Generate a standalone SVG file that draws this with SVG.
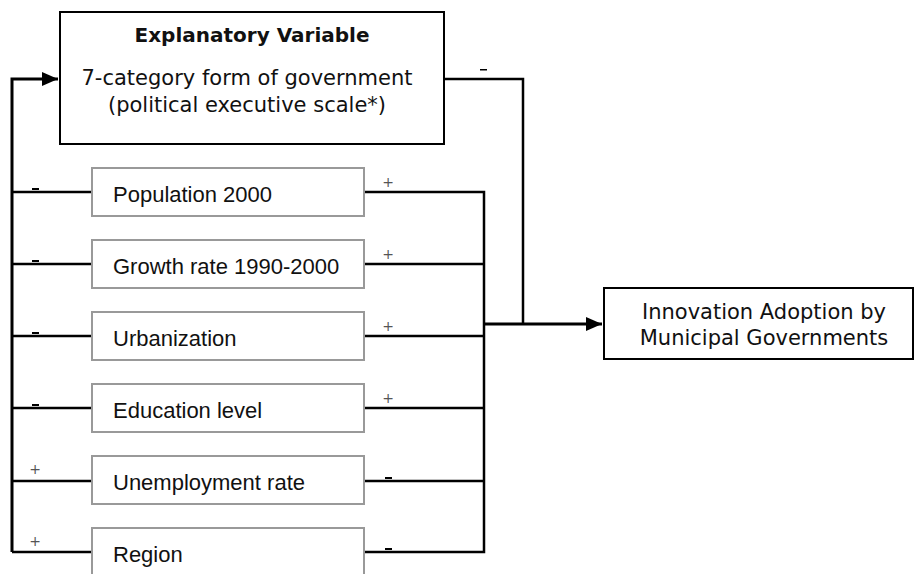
<svg xmlns="http://www.w3.org/2000/svg" width="915" height="574" viewBox="0 0 915 574">
<style>
.main{fill:#fff;stroke:#000;stroke-width:2}
.var{fill:#fff;stroke:#999;stroke-width:2}
.t{font-family:"DejaVu Sans",Verdana,sans-serif;font-size:21px;fill:#111}
.tb{font-family:"DejaVu Sans",Verdana,sans-serif;font-size:20px;font-weight:bold;fill:#111}
.v{font-family:"Liberation Sans",Arial,sans-serif;font-size:22px;fill:#111}
.c{fill:none;stroke:#000;stroke-width:2.5}
.ct{fill:none;stroke:#000;stroke-width:3}
.s{font-family:"DejaVu Sans",Arial,sans-serif;font-size:14px;fill:#555}
.m{fill:#000}
</style>
<defs>
<marker id="ah" viewBox="0 0 16 14" refX="16" refY="7" markerWidth="16" markerHeight="14" markerUnits="userSpaceOnUse" orient="auto">
<path d="M0,0 L16,7 L0,14 Z" fill="#000"/>
</marker>
</defs>
<g id="connectors">
<path class="ct" d="M12,552 V79 H58" marker-end="url(#ah)"/>
<path class="c" d="M444,79 H523 V324"/>
<path class="c" d="M12,192 H92 M12,264 H92 M12,336 H92 M12,408 H92 M12,481 H92 M12,552 H92"/>
<path class="c" d="M364,192 H484 V552 H364 M364,264 H484 M364,336 H484 M364,408 H484 M364,481 H484"/>
<path class="ct" d="M484,324 H602" marker-end="url(#ah)"/>
<rect class="m" x="32" y="188" width="7" height="2"/>
<rect class="m" x="32" y="260" width="7" height="2"/>
<rect class="m" x="32" y="332" width="7" height="2"/>
<rect class="m" x="32" y="404" width="7" height="2"/>
<rect class="m" x="385" y="477" width="7" height="2"/>
<rect class="m" x="385" y="548" width="7" height="2"/>
<rect class="m" x="480" y="69" width="7" height="1.5"/>
<text class="s" x="388" y="187" text-anchor="middle">+</text>
<text class="s" x="388" y="259" text-anchor="middle">+</text>
<text class="s" x="388" y="331" text-anchor="middle">+</text>
<text class="s" x="388" y="403" text-anchor="middle">+</text>
<text class="s" x="35" y="474" text-anchor="middle">+</text>
<text class="s" x="35" y="546" text-anchor="middle">+</text>
</g>
<g id="explanatory">
<rect class="main" x="60" y="12" width="384" height="132"/>
<text class="tb" x="252" y="42" text-anchor="middle">Explanatory Variable</text>
<text class="t" x="247" y="85" text-anchor="middle">7-category form of government</text>
<text class="t" x="247" y="112" text-anchor="middle">(political executive scale*)</text>
</g>
<g id="population"><rect class="var" x="92" y="168" width="272" height="48"/><text class="v" x="113" y="202">Population 2000</text></g>
<g id="growth"><rect class="var" x="92" y="240" width="272" height="48"/><text class="v" x="113" y="274">Growth rate 1990-2000</text></g>
<g id="urbanization"><rect class="var" x="92" y="312" width="272" height="48"/><text class="v" x="113" y="346">Urbanization</text></g>
<g id="education"><rect class="var" x="92" y="384" width="272" height="48"/><text class="v" x="113" y="418">Education level</text></g>
<g id="unemployment"><rect class="var" x="92" y="456" width="272" height="48"/><text class="v" x="113" y="490">Unemployment rate</text></g>
<g id="region"><rect class="var" x="92" y="528" width="272" height="48"/><text class="v" x="113" y="562">Region</text></g>
<g id="outcome">
<rect class="main" x="604" y="288" width="309" height="71"/>
<text class="t" x="764" y="319" text-anchor="middle">Innovation Adoption by</text>
<text class="t" x="764" y="345" text-anchor="middle">Municipal Governments</text>
</g>
</svg>
